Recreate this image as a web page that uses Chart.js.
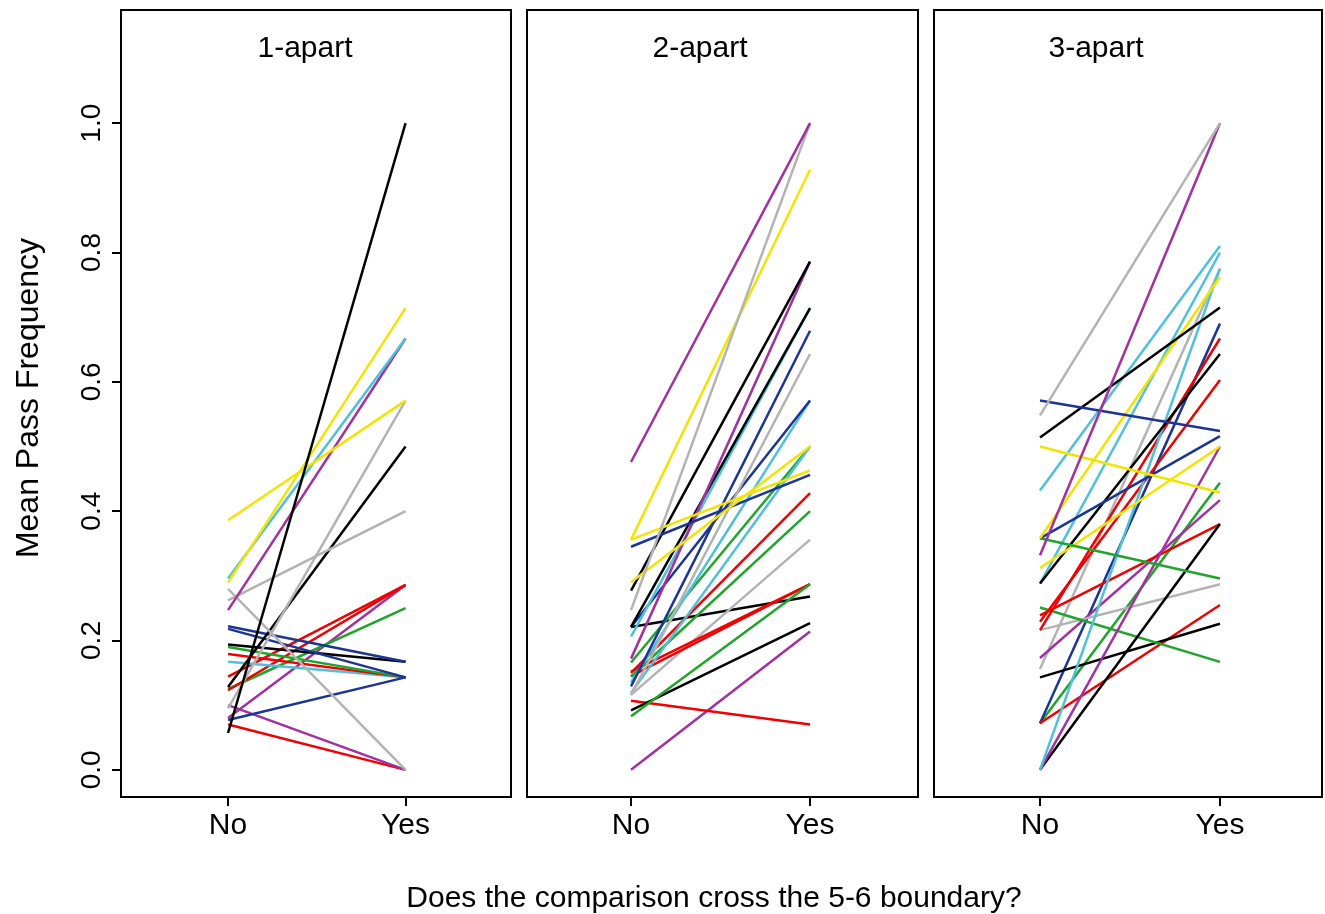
<!DOCTYPE html>
<html lang="en">
<head>
    <meta charset="UTF-8">
    <title>Mean Pass Frequency by boundary crossing</title>
    <script src="https://cdn.jsdelivr.net/npm/chart.js"></script>
    <style>
        body { margin: 0; background: #fff; }
        .panel { position: absolute; left: 0; top: 0; }
    </style>
</head>
<body>
    <canvas id="p1" class="panel" width="1325" height="914"></canvas>
    <canvas id="p2" class="panel" width="1325" height="914"></canvas>
    <canvas id="p3" class="panel" width="1325" height="914"></canvas>

    <script>
        // x categories, panel names and y ticks
        const categories = ['No', 'Yes'];
        const panelTitles = ['1-apart', '2-apart', '3-apart'];
        const yTicks = [0, 0.2, 0.4, 0.6, 0.8, 1.0];

        // 1-apart: value at No, value at Yes, colour group of each line
        const noVals1  = [0.057, 0.386, 0.290, 0.296, 0.247, 0.280, 0.262, 0.095, 0.128, 0.222, 0.218,
                          0.077, 0.194, 0.190, 0.179, 0.167, 0.144, 0.123, 0.125, 0.080, 0.100, 0.070];
        const yesVals1 = [1.000, 0.571, 0.714, 0.667, 0.667, 0.000, 0.400, 0.571, 0.500, 0.167, 0.143,
                          0.143, 0.167, 0.143, 0.143, 0.143, 0.286, 0.286, 0.250, 0.286, 0.000, 0.000];
        const groups1  = ['black', 'yellow', 'yellow', 'cyan', 'purple', 'gray', 'gray', 'gray', 'black', 'blue', 'blue',
                          'blue', 'black', 'green', 'red', 'cyan', 'red', 'red', 'green', 'purple', 'purple', 'red'];

        // 2-apart
        const noVals2  = [0.476, 0.247, 0.356, 0.356, 0.290, 0.345, 0.277, 0.172, 0.221, 0.206, 0.129, 0.116, 0.221,
                          0.119, 0.135, 0.150, 0.166, 0.144, 0.083, 0.152, 0.145, 0.116, 0.221, 0.092, 0.107, 0.000];
        const yesVals2 = [1.000, 1.000, 0.928, 0.463, 0.500, 0.456, 0.786, 0.786, 0.714, 0.714, 0.679, 0.643, 0.571,
                          0.500, 0.571, 0.428, 0.500, 0.400, 0.287, 0.287, 0.287, 0.356, 0.268, 0.227, 0.070, 0.214];
        const groups2  = ['purple', 'gray', 'yellow', 'yellow', 'yellow', 'blue', 'black', 'purple', 'black', 'cyan', 'blue', 'gray', 'blue',
                          'cyan', 'cyan', 'red', 'green', 'green', 'green', 'red', 'red', 'gray', 'black', 'black', 'red', 'purple'];

        // 3-apart
        const noVals3  = [0.548, 0.332, 0.571, 0.514, 0.500, 0.432, 0.358, 0.358, 0.358, 0.312, 0.288, 0.288, 0.000,
                          0.000, 0.000, 0.216, 0.229, 0.239, 0.251, 0.216, 0.173, 0.156, 0.143, 0.072, 0.072, 0.072];
        const yesVals3 = [1.000, 1.000, 0.524, 0.715, 0.429, 0.810, 0.762, 0.516, 0.296, 0.500, 0.643, 0.800, 0.775,
                          0.500, 0.380, 0.667, 0.603, 0.380, 0.167, 0.287, 0.417, 0.775, 0.226, 0.255, 0.690, 0.444];
        const groups3  = ['gray', 'purple', 'blue', 'black', 'yellow', 'cyan', 'yellow', 'blue', 'green', 'yellow', 'black', 'cyan', 'cyan',
                          'purple', 'black', 'red', 'red', 'red', 'green', 'gray', 'purple', 'gray', 'black', 'red', 'blue', 'green'];

        const palette = {
            black: '#000000', yellow: '#F2E400', cyan: '#4EC0DA', purple: '#A3309F',
            gray: '#B3B3B3', red: '#F00000', green: '#1FA52B', blue: '#1C3595'
        };

        const FONT = "'Liberation Sans', Arial, sans-serif";
        const W = 1325, H = 914;
        const boxTop = 10, boxBottom = 797;
        const panelLeft = [121, 527, 934];
        const panelRight = [511, 918, 1322];
        const titleX = [305, 700, 1096];
        // x range of each box, so No/Yes land where they do in the figure
        const xMin = [-0.603, -0.581, -0.589];
        const xMax = [1.594, 1.603, 1.567];

        // box, panel title and (first panel) y labels + axis titles
        function decoPlugin(idx) {
            return {
                id: 'deco' + idx,
                afterDraw(chart) {
                    const ctx = chart.ctx;
                    const a = chart.chartArea;
                    ctx.save();
                    ctx.strokeStyle = '#000';
                    ctx.lineWidth = 2;
                    ctx.strokeRect(a.left, a.top, a.right - a.left, a.bottom - a.top);

                    ctx.fillStyle = '#000';
                    ctx.font = '30px ' + FONT;
                    ctx.textAlign = 'center';
                    ctx.textBaseline = 'alphabetic';
                    ctx.fillText(panelTitles[idx], titleX[idx], 57);

                    if (idx === 0) {
                        const ys = chart.scales.y;
                        ctx.font = '28px ' + FONT;
                        yTicks.forEach(v => {
                            const py = ys.getPixelForValue(v);
                            ctx.save();
                            ctx.translate(100, py);
                            ctx.rotate(-Math.PI / 2);
                            ctx.fillText(v.toFixed(1), 0, 0);
                            ctx.restore();
                        });

                        ctx.font = '32px ' + FONT;
                        ctx.save();
                        ctx.translate(38, 398);
                        ctx.rotate(-Math.PI / 2);
                        ctx.fillText('Mean Pass Frequency', 0, 0);
                        ctx.restore();

                        ctx.font = '30px ' + FONT;
                        ctx.fillText('Does the comparison cross the 5-6 boundary?', 714, 907);
                    }
                    ctx.restore();
                }
            };
        }

        function makePanel(idx, noVals, yesVals, groups) {
            const datasets = noVals.map((v, i) => ({
                data: [{ x: 0, y: v }, { x: 1, y: yesVals[i] }],
                borderColor: palette[groups[i]],
                borderWidth: 2.5,
                pointRadius: 0,
                fill: false
            }));

            new Chart(document.getElementById('p' + (idx + 1)), {
                type: 'line',
                data: { datasets: datasets },
                options: {
                    responsive: false,
                    animation: false,
                    layout: {
                        padding: {
                            // the y axis box always takes panelLeft[0] px
                            left: panelLeft[idx] - panelLeft[0],
                            right: W - panelRight[idx],
                            top: boxTop,
                            bottom: 0
                        }
                    },
                    plugins: { legend: { display: false }, tooltip: { enabled: false } },
                    scales: {
                        x: {
                            type: 'linear',
                            min: xMin[idx],
                            max: xMax[idx],
                            afterBuildTicks: s => { s.ticks = categories.map((c, i) => ({ value: i })); },
                            afterFit: s => { s.height = H - boxBottom; },
                            ticks: {
                                callback: v => categories[v],
                                font: { size: 30, family: FONT },
                                color: '#000',
                                padding: 2,
                                maxRotation: 0,
                                autoSkip: false
                            },
                            grid: { drawOnChartArea: false, tickLength: 9, color: '#000', lineWidth: 2 },
                            border: { display: false }
                        },
                        y: {
                            display: idx === 0,
                            min: -0.042,
                            max: 1.175,
                            afterBuildTicks: s => { s.ticks = yTicks.map(v => ({ value: v })); },
                            afterFit: s => { s.width = panelLeft[0]; },
                            ticks: { display: false },
                            grid: { drawOnChartArea: false, tickLength: 9, color: '#000', lineWidth: 2 },
                            border: { display: false }
                        }
                    }
                },
                plugins: [decoPlugin(idx)]
            });
        }

        makePanel(0, noVals1, yesVals1, groups1);
        makePanel(1, noVals2, yesVals2, groups2);
        makePanel(2, noVals3, yesVals3, groups3);
    </script>
</body>
</html>
